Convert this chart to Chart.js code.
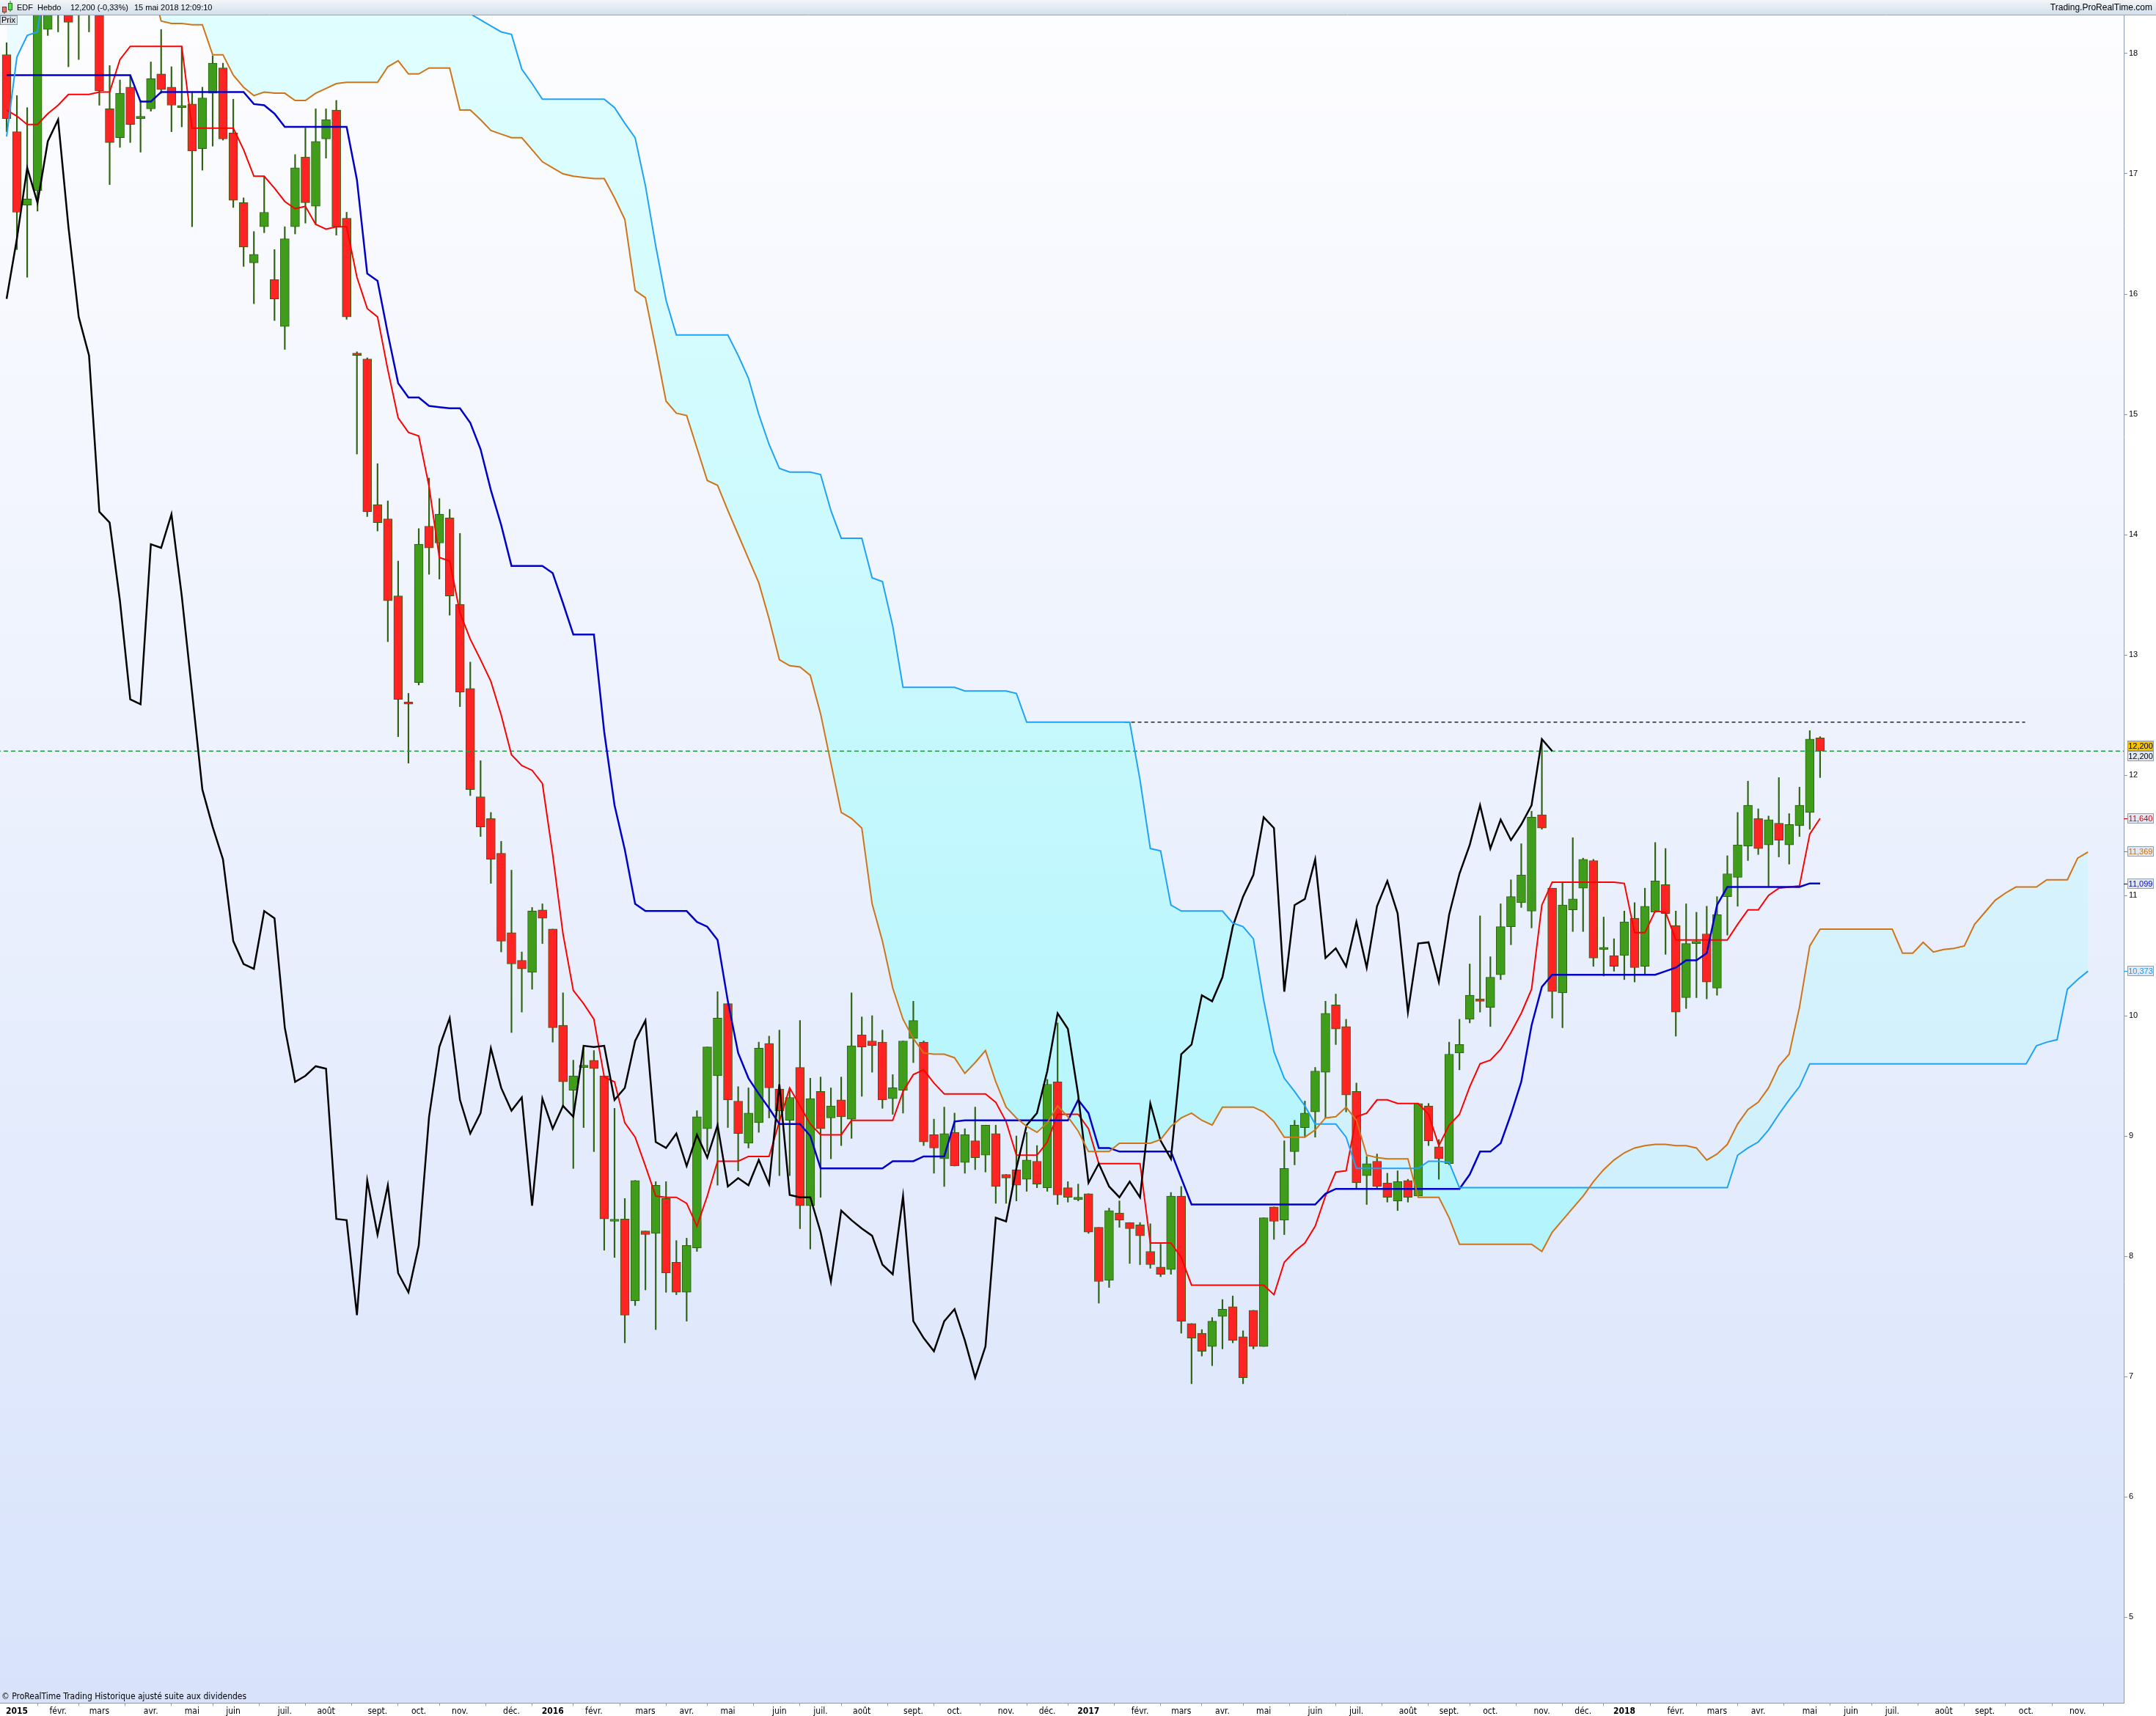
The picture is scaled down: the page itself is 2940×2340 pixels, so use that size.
<!DOCTYPE html>
<html>
<head>
<meta charset="utf-8">
<script src="https://cdn.jsdelivr.net/npm/chart.js@4.4.1/dist/chart.umd.min.js"></script>
<style>
  html, body { margin: 0; padding: 0; background: #fff; }
  canvas { display: block; }
</style>
</head>
<body>
<canvas id="chart" width="2940" height="2340"></canvas>
<script>
// EDF hebdo - ichimoku, bougies de janv. 2015 a mai 2018 (une valeur par semaine)
const opens = [
  17.99, 17.35, 16.74, 16.86, 18.20, 18.70, 18.80, 18.60, 18.50, 18.60,
  17.54, 17.30, 17.72, 17.46, 17.54, 17.83, 17.72, 17.55, 17.58, 17.21,
  17.67, 17.88, 17.34, 16.76, 16.26, 16.56, 16.12, 15.73, 16.56, 17.14,
  16.73, 17.29, 17.53, 16.63, 15.50, 15.46, 14.25, 14.13, 13.49, 12.60,
  12.77, 14.07, 13.93, 14.14, 13.42, 12.72, 11.82, 11.64, 11.35, 10.69,
  10.46, 10.36, 10.88, 10.72, 9.92, 9.38, 9.57, 9.63, 9.50, 8.29,
  8.31, 7.63, 8.21, 8.19, 8.48, 7.95, 7.70, 8.07, 9.06, 9.50,
  10.10, 9.29, 8.94, 9.11, 9.77, 9.39, 9.13, 9.57, 8.42, 9.37,
  9.15, 9.30, 9.14, 9.84, 9.79, 9.78, 9.31, 9.38, 9.81, 9.78,
  9.01, 8.81, 9.03, 8.78, 8.96, 8.84, 9.02, 8.68, 8.72, 8.64,
  8.79, 8.57, 9.45, 8.57, 8.47, 8.52, 8.24, 7.80, 8.36, 8.28,
  8.26, 8.04, 7.91, 7.89, 8.50, 7.44, 7.36, 7.25, 7.50, 7.58,
  7.33, 7.55, 7.25, 8.41, 8.30, 8.87, 9.07, 9.20, 9.53, 10.09,
  9.91, 9.37, 8.67, 8.79, 8.61, 8.46, 8.63, 8.50, 9.25, 8.91,
  8.77, 9.69, 9.97, 10.14, 10.07, 10.34, 10.74, 10.94, 10.87, 11.67,
  11.06, 10.19, 10.88, 11.06, 11.29, 10.55, 10.50, 10.50, 10.81, 10.41,
  10.86, 11.09, 10.75, 10.15, 10.60, 10.68, 10.23, 10.99, 11.15, 11.41,
  11.64, 11.42, 11.60, 11.42, 11.58, 11.69, 12.31
];
const highs = [
  18.09, 17.65, 17.55, 18.90, 18.90, 19.00, 19.00, 18.90, 18.90, 18.80,
  17.90, 17.78, 17.82, 17.61, 17.93, 18.20, 17.89, 18.05, 17.68, 17.72,
  17.98, 17.92, 17.62, 16.80, 16.52, 16.98, 16.37, 16.56, 17.16, 17.38,
  17.54, 17.54, 17.61, 16.68, 15.52, 15.47, 14.59, 14.28, 13.78, 12.68,
  14.05, 14.47, 14.30, 14.21, 14.01, 12.94, 12.12, 11.69, 11.45, 11.21,
  10.53, 10.90, 10.93, 10.72, 10.19, 9.63, 9.73, 9.71, 9.50, 9.23,
  8.48, 8.63, 8.21, 8.62, 8.62, 8.13, 8.15, 9.21, 9.74, 10.20,
  10.10, 9.41, 9.40, 9.78, 9.83, 9.88, 9.40, 9.96, 9.48, 9.49,
  9.40, 9.49, 10.19, 9.99, 10.00, 9.88, 9.51, 9.79, 10.12, 9.79,
  9.14, 9.24, 9.19, 9.06, 9.24, 9.09, 9.09, 8.68, 9.00, 9.03,
  8.92, 9.47, 9.94, 8.62, 8.60, 8.52, 8.24, 8.40, 8.46, 8.28,
  8.28, 8.27, 8.10, 8.53, 8.58, 7.44, 7.39, 7.49, 7.64, 7.67,
  7.38, 7.55, 8.32, 8.41, 8.96, 9.13, 9.29, 9.57, 10.12, 10.18,
  9.97, 9.44, 8.83, 8.85, 8.69, 8.71, 8.64, 9.27, 9.27, 8.97,
  9.78, 9.97, 10.43, 10.83, 10.49, 10.93, 11.13, 11.43, 11.70, 12.28,
  11.06, 11.11, 11.48, 11.31, 11.30, 10.82, 10.64, 10.87, 10.94, 11.06,
  11.44, 11.39, 10.87, 10.93, 10.86, 10.91, 10.99, 11.33, 11.69, 11.95,
  11.72, 11.66, 11.98, 11.68, 11.90, 12.37, 12.32
];
const lows = [
  17.35, 16.37, 16.14, 16.69, 18.15, 18.18, 17.89, 17.95, 18.18, 17.57,
  16.91, 17.22, 17.26, 17.18, 17.52, 17.67, 17.35, 17.39, 16.56, 17.03,
  17.23, 17.28, 16.72, 16.23, 15.92, 16.51, 15.78, 15.54, 16.50, 16.59,
  16.58, 17.13, 16.49, 15.79, 14.67, 14.15, 14.03, 13.11, 12.32, 12.10,
  12.75, 13.67, 13.63, 13.33, 12.57, 11.83, 11.49, 11.10, 10.53, 9.86,
  10.03, 10.22, 10.60, 9.78, 9.25, 8.73, 9.07, 8.87, 8.05, 7.99,
  7.28, 7.59, 7.72, 7.39, 7.70, 7.68, 7.46, 8.04, 8.87, 8.59,
  9.07, 8.71, 8.90, 9.03, 9.15, 8.67, 8.67, 8.23, 8.06, 8.49,
  8.81, 8.92, 8.98, 9.33, 9.53, 9.23, 9.18, 9.19, 9.61, 8.92,
  8.69, 8.58, 8.75, 8.69, 8.72, 8.70, 8.44, 8.44, 8.46, 8.54,
  8.57, 8.54, 8.43, 8.45, 8.46, 8.19, 7.61, 7.74, 8.24, 7.94,
  7.93, 7.90, 7.83, 7.85, 7.36, 6.94, 7.17, 7.09, 7.23, 7.28,
  6.94, 7.23, 7.25, 8.14, 8.18, 8.76, 8.99, 8.99, 9.15, 9.76,
  9.20, 8.56, 8.43, 8.57, 8.45, 8.38, 8.45, 8.50, 8.92, 8.64,
  8.76, 9.55, 9.94, 10.03, 9.91, 10.30, 10.59, 10.90, 10.73, 11.55,
  9.98, 9.90, 10.70, 10.70, 10.41, 10.33, 10.37, 10.30, 10.28, 10.34,
  10.86, 10.51, 9.83, 10.06, 10.15, 10.14, 10.17, 10.67, 10.91, 11.29,
  11.34, 11.07, 11.32, 11.26, 11.49, 11.55, 11.98
];
const closes = [
  17.46, 16.68, 16.79, 18.60, 18.70, 18.80, 18.26, 18.50, 18.70, 17.69,
  17.26, 17.67, 17.41, 17.47, 17.79, 17.70, 17.57, 17.56, 17.19, 17.63,
  17.92, 17.29, 16.78, 16.39, 16.33, 16.68, 15.96, 16.46, 17.05, 16.76,
  17.27, 17.45, 16.56, 15.81, 15.49, 14.19, 14.10, 13.45, 12.63, 12.59,
  13.92, 13.89, 14.17, 13.49, 12.69, 11.88, 11.57, 11.30, 10.62, 10.43,
  10.39, 10.87, 10.81, 9.90, 9.45, 9.50, 9.58, 9.56, 8.31, 8.30,
  7.51, 8.63, 8.18, 8.59, 7.86, 7.70, 8.09, 9.16, 9.74, 9.98,
  9.30, 9.02, 9.19, 9.73, 9.40, 9.21, 9.32, 8.42, 9.31, 9.06,
  9.25, 9.16, 9.75, 9.74, 9.75, 9.30, 9.40, 9.79, 9.96, 8.95,
  8.90, 9.02, 8.75, 9.01, 8.82, 9.09, 8.58, 8.65, 8.59, 8.80,
  8.60, 9.43, 8.51, 8.49, 8.49, 8.20, 7.79, 8.38, 8.30, 8.23,
  8.17, 7.93, 7.85, 8.50, 7.46, 7.32, 7.21, 7.46, 7.56, 7.30,
  6.99, 7.25, 8.32, 8.29, 8.73, 9.09, 9.19, 9.54, 10.02, 9.89,
  9.34, 8.61, 8.77, 8.58, 8.49, 8.62, 8.49, 9.27, 8.96, 8.81,
  9.68, 9.76, 10.17, 10.12, 10.32, 10.74, 10.99, 11.17, 11.65, 11.56,
  10.20, 10.92, 10.97, 11.30, 10.48, 10.56, 10.41, 10.78, 10.40, 10.91,
  11.12, 10.85, 10.03, 10.60, 10.61, 10.28, 10.84, 11.18, 11.42, 11.75,
  11.39, 11.63, 11.46, 11.59, 11.75, 12.30, 12.20
];
// Tenkan (rouge) et Kijun (bleu), une valeur par bougie
const tenkan = [
  17.53, 17.48, 17.41, 17.41, 17.50, 17.57, 17.66, 17.66, 17.66, 17.68,
  17.68, 17.95, 18.06, 18.06, 18.06, 18.06, 18.06, 18.06, 17.38, 17.38,
  17.38, 17.38, 17.38, 17.20, 16.98, 16.98, 16.88, 16.77, 16.71, 16.73,
  16.58, 16.54, 16.56, 16.56, 16.14, 15.88, 15.81, 15.37, 14.97, 14.85,
  14.82, 14.40, 13.81, 13.78, 13.35, 13.13, 12.96, 12.78, 12.50, 12.17,
  12.08, 12.04, 11.93, 11.34, 10.68, 10.21, 10.10, 9.97, 9.49, 9.45,
  9.11, 8.99, 8.75, 8.50, 8.49, 8.49, 8.44, 8.25, 8.50, 8.79,
  8.79, 8.79, 8.83, 8.83, 8.83, 9.12, 9.40, 9.25, 9.10, 9.01,
  9.01, 9.01, 9.13, 9.13, 9.13, 9.13, 9.13, 9.37, 9.51, 9.55,
  9.44, 9.35, 9.35, 9.35, 9.35, 9.35, 9.28, 9.12, 8.84, 8.84,
  8.84, 8.95, 9.18, 9.18, 9.18, 9.06, 8.77, 8.77, 8.77, 8.77,
  8.77, 8.11, 8.11, 8.11, 7.99, 7.76, 7.76, 7.76, 7.76, 7.76,
  7.76, 7.76, 7.76, 7.68, 7.95, 8.04, 8.11, 8.25, 8.50, 8.70,
  8.71, 9.16, 9.19, 9.30, 9.30, 9.27, 9.27, 9.27, 9.18, 8.92,
  9.09, 9.18, 9.41, 9.60, 9.63, 9.72, 9.86, 10.02, 10.22, 10.92,
  11.11, 11.11, 11.11, 11.11, 11.11, 11.11, 11.11, 11.10, 10.69, 10.69,
  10.87, 10.86, 10.63, 10.63, 10.63, 10.63, 10.63, 10.63, 10.76, 10.88,
  10.88, 11.00, 11.06, 11.07, 11.08, 11.51, 11.64
];
const kijun = [
  17.82, 17.82, 17.82, 17.82, 17.82, 17.82, 17.82, 17.82, 17.82, 17.82,
  17.82, 17.82, 17.82, 17.60, 17.60, 17.68, 17.68, 17.68, 17.68, 17.68,
  17.68, 17.68, 17.68, 17.68, 17.58, 17.57, 17.50, 17.39, 17.39, 17.39,
  17.39, 17.39, 17.39, 17.39, 16.95, 16.17, 16.11, 15.67, 15.26, 15.14,
  15.14, 15.07, 15.06, 15.05, 15.05, 14.93, 14.71, 14.37, 14.08, 13.74,
  13.74, 13.74, 13.74, 13.68, 13.43, 13.17, 13.17, 13.17, 12.36, 11.75,
  11.38, 10.93, 10.87, 10.87, 10.87, 10.87, 10.87, 10.78, 10.74, 10.63,
  10.12, 9.69, 9.48, 9.35, 9.23, 9.10, 9.10, 9.10, 9.00, 8.73,
  8.73, 8.73, 8.73, 8.73, 8.73, 8.73, 8.79, 8.79, 8.79, 8.83,
  8.83, 8.83, 9.12, 9.13, 9.13, 9.13, 9.13, 9.13, 9.13, 9.13,
  9.13, 9.13, 9.13, 9.13, 9.30, 9.19, 8.90, 8.90, 8.87, 8.87,
  8.87, 8.87, 8.87, 8.87, 8.65, 8.43, 8.43, 8.43, 8.43, 8.43,
  8.43, 8.43, 8.43, 8.43, 8.43, 8.43, 8.43, 8.43, 8.52, 8.56,
  8.56, 8.56, 8.56, 8.56, 8.56, 8.56, 8.56, 8.56, 8.56, 8.56,
  8.56, 8.56, 8.68, 8.87, 8.87, 8.94, 9.18, 9.45, 9.92, 10.24,
  10.34, 10.34, 10.34, 10.34, 10.34, 10.34, 10.34, 10.34, 10.34, 10.34,
  10.34, 10.37, 10.40, 10.46, 10.46, 10.52, 10.92, 11.07, 11.07, 11.07,
  11.07, 11.07, 11.07, 11.07, 11.07, 11.10, 11.10
];
// Senkou span A (orange) et B (bleu clair), decalees de 26 semaines : 203 valeurs
const senkouA = [
  18.60, 18.60, 18.60, 18.60, 18.60, 18.60, 18.60, 18.60, 18.60, 18.60,
  18.60, 18.60, 18.60, 18.60, 18.60, 18.27, 18.25, 18.25, 18.24, 18.24,
  17.99, 17.99, 17.82, 17.72, 17.65, 17.68, 17.67, 17.67, 17.61, 17.61,
  17.67, 17.71, 17.75, 17.76, 17.76, 17.76, 17.76, 17.89, 17.94, 17.83,
  17.83, 17.88, 17.88, 17.88, 17.53, 17.53, 17.45, 17.36, 17.33, 17.30,
  17.30, 17.20, 17.10, 17.05, 17.00, 16.98, 16.97, 16.96, 16.96, 16.80,
  16.62, 16.03, 15.97, 15.55, 15.11, 15.01, 14.99, 14.72, 14.45, 14.41,
  14.20, 14.00, 13.80, 13.60, 13.30, 12.96, 12.91, 12.90, 12.83, 12.51,
  12.10, 11.69, 11.64, 11.56, 10.93, 10.62, 10.23, 9.97, 9.81, 9.69,
  9.68, 9.68, 9.65, 9.52, 9.61, 9.71, 9.45, 9.24, 9.15, 9.08,
  9.03, 9.11, 9.25, 9.16, 9.04, 8.87, 8.87, 8.87, 8.94, 8.94,
  8.94, 8.94, 8.97, 9.08, 9.15, 9.19, 9.13, 9.09, 9.24, 9.24,
  9.24, 9.24, 9.20, 9.12, 8.99, 8.99, 8.99, 9.05, 9.15, 9.16,
  9.24, 9.13, 8.84, 8.82, 8.81, 8.81, 8.81, 8.49, 8.49, 8.49,
  8.32, 8.10, 8.10, 8.10, 8.10, 8.10, 8.10, 8.10, 8.10, 8.04,
  8.20, 8.30, 8.40, 8.50, 8.62, 8.72, 8.80, 8.86, 8.90, 8.92,
  8.93, 8.93, 8.92, 8.92, 8.90, 8.80, 8.85, 8.93, 9.10, 9.22,
  9.28, 9.40, 9.58, 9.68, 10.07, 10.58, 10.72, 10.72, 10.72, 10.72,
  10.72, 10.72, 10.72, 10.72, 10.52, 10.52, 10.61, 10.53, 10.55, 10.56,
  10.58, 10.76, 10.86, 10.96, 11.02, 11.07, 11.07, 11.07, 11.13, 11.13,
  11.13, 11.31, 11.36
];
const senkouB = [
  17.31, 17.97, 18.15, 18.18, 18.80, 18.80, 18.80, 18.80, 18.80, 18.80,
  18.80, 18.80, 18.80, 18.80, 18.80, 18.80, 18.80, 18.80, 18.80, 18.80,
  18.80, 18.80, 18.80, 18.80, 18.80, 18.80, 18.80, 18.80, 18.80, 18.80,
  18.80, 18.80, 18.80, 18.80, 18.80, 18.80, 18.80, 18.80, 18.80, 18.80,
  18.80, 18.80, 18.80, 18.80, 18.80, 18.33, 18.28, 18.23, 18.18, 18.16,
  17.87, 17.75, 17.62, 17.62, 17.62, 17.62, 17.62, 17.62, 17.62, 17.55,
  17.42, 17.30, 16.90, 16.40, 15.95, 15.66, 15.66, 15.66, 15.66, 15.66,
  15.66, 15.49, 15.30, 15.00, 14.75, 14.55, 14.52, 14.52, 14.52, 14.50,
  14.20, 13.97, 13.97, 13.97, 13.64, 13.61, 13.24, 12.73, 12.73, 12.73,
  12.73, 12.73, 12.73, 12.70, 12.70, 12.70, 12.70, 12.70, 12.68, 12.44,
  12.44, 12.44, 12.44, 12.44, 12.44, 12.44, 12.44, 12.44, 12.44, 12.44,
  11.96, 11.39, 11.37, 10.92, 10.87, 10.87, 10.87, 10.87, 10.87, 10.77,
  10.74, 10.64, 10.13, 9.70, 9.48, 9.37, 9.25, 9.10, 9.10, 9.10,
  8.99, 8.73, 8.73, 8.73, 8.73, 8.73, 8.73, 8.73, 8.79, 8.79,
  8.78, 8.57, 8.57, 8.57, 8.57, 8.57, 8.57, 8.57, 8.57, 8.57,
  8.57, 8.57, 8.57, 8.57, 8.57, 8.57, 8.57, 8.57, 8.57, 8.57,
  8.57, 8.57, 8.57, 8.57, 8.57, 8.57, 8.57, 8.57, 8.84, 8.90,
  8.95, 9.05, 9.18, 9.30, 9.41, 9.60, 9.60, 9.60, 9.60, 9.60,
  9.60, 9.60, 9.60, 9.60, 9.60, 9.60, 9.60, 9.60, 9.60, 9.60,
  9.60, 9.60, 9.60, 9.60, 9.60, 9.60, 9.60, 9.75, 9.78, 9.80,
  10.22, 10.30, 10.37
];
const chikouShift = 26;
const lastPrice = 12.2;
const resistance = 12.44;
const resistanceFrom = 108.5;
const resistanceTo = 195.9;
const yTickValues = [5, 6, 7, 8, 9, 10, 11, 12, 13, 14, 15, 16, 17, 18];
const monthLabels = ['', 'févr.', 'mars', 'avr.', 'mai', 'juin', 'juil.', 'août', 'sept.', 'oct.', 'nov.', 'déc.'];
const tickYears = [2015, 2016, 2017, 2018];
const priceTags = [
  { value: 12.2, text: '12,200', color: '#000000', bg: '#f6c400', dy: -7 },
  { value: 12.2, text: '12,200', color: '#000000', bg: '#e3e9f2', dy: 7 },
  { value: 11.64, text: '11,640', color: '#e00000', bg: '#e3e9f2', dy: 0 },
  { value: 11.369, text: '11,369', color: '#c8700a', bg: '#e3e9f2', dy: 0 },
  { value: 11.099, text: '11,099', color: '#0000cc', bg: '#e3e9f2', dy: 0 },
  { value: 10.373, text: '10,373', color: '#1e9bf0', bg: '#e3e9f2', dy: 0 }
];

// les barres sont datees du lundi ; premiere bougie = semaine du 29/12/2014
const firstBar = Date.UTC(2014, 11, 29);
const xTicks = [];
tickYears.forEach((y) => {
  for (let m = 0; m < 12; m++) {
    if (y === 2018 && m > 10) break;
    const days = (Date.UTC(y, m, 1) - firstBar) / 86400000;
    xTicks.push({ value: Math.ceil(days / 7), label: m === 0 ? String(y) : monthLabels[m], year: m === 0 });
  }
});

const canvas = document.getElementById('chart');
const ctx = canvas.getContext('2d');
const TOP = 21, BOTTOM = 2322;
function vGrad(c1, c2) {
  const g = ctx.createLinearGradient(0, TOP, 0, BOTTOM);
  g.addColorStop(0, c1);
  g.addColorStop(1, c2);
  return g;
}
const cloudBelow = vGrad('#e0feff', '#a2f1fc');
const cloudAbove = vGrad('#ecfbff', '#c2ebfb');

const bodies = closes.map((c, i) => ({ x: i, y: [opens[i], c] }));
const wicks = closes.map((c, i) => ({ x: i, y: [lows[i], highs[i]] }));
const line = (arr) => arr.map((v, i) => ({ x: i, y: v }));
const chikou = closes.slice(chikouShift).map((v, i) => ({ x: i, y: v }));

const isUp = (c) => {
  const p = c.raw;
  return p && p.y[1] >= p.y[0];
};

const lineBase = { type: 'line', pointRadius: 0, tension: 0, fill: false, order: 0 };

const datasets = [
  Object.assign({}, lineBase, { label: 'Senkou A', data: line(senkouA), borderColor: '#cf7418', borderWidth: 2,
    fill: { target: 1, above: cloudAbove, below: cloudBelow } }),
  Object.assign({}, lineBase, { label: 'Senkou B', data: line(senkouB), borderColor: '#1ea2f5', borderWidth: 2 }),
  Object.assign({}, lineBase, { label: 'Chikou', data: chikou, borderColor: '#000000', borderWidth: 2.5 }),
  Object.assign({}, lineBase, { label: 'Kijun', data: line(kijun), borderColor: '#0000c8', borderWidth: 2.5 }),
  Object.assign({}, lineBase, { label: 'Tenkan', data: line(tenkan), borderColor: '#ff0000', borderWidth: 2 }),
  Object.assign({}, lineBase, { label: 'Dernier', data: [{ x: -1, y: lastPrice }, { x: 210, y: lastPrice }],
    borderColor: '#1f9c3c', borderWidth: 1.5, borderDash: [6, 4] }),
  Object.assign({}, lineBase, { label: 'Resistance', data: [{ x: resistanceFrom, y: resistance }, { x: resistanceTo, y: resistance }],
    borderColor: '#222222', borderWidth: 1.5, borderDash: [5, 4] }),
  {
    type: 'bar', label: 'Corps', data: bodies, order: 1, grouped: false,
    barThickness: 12, minBarLength: 3, borderSkipped: false, borderWidth: 1,
    borderColor: '#2d5f10',
    backgroundColor: (c) => (isUp(c) ? '#3f9d1b' : '#ff2424')
  },
  {
    type: 'bar', label: 'Meches', data: wicks, order: 2, grouped: false,
    barThickness: 1.5, borderWidth: 0, backgroundColor: '#2f6212'
  }
];

const backgroundPlugin = {
  id: 'fond',
  beforeDraw(chart) {
    const c = chart.ctx, a = chart.chartArea;
    c.save();
    c.fillStyle = '#ffffff';
    c.fillRect(0, 0, chart.width, chart.height);
    const g = c.createLinearGradient(0, a.top, 0, a.bottom);
    g.addColorStop(0, '#fdfdff');
    g.addColorStop(1, '#d8e3fb');
    c.fillStyle = g;
    c.fillRect(a.left, a.top, a.right - a.left, a.bottom - a.top);
    c.restore();
  }
};

const decorPlugin = {
  id: 'decor',
  afterDraw(chart) {
    const c = chart.ctx, a = chart.chartArea, W = chart.width;
    const yScale = chart.scales.y;
    c.save();
    // bandeau du haut
    const hg = c.createLinearGradient(0, 0, 0, 20);
    hg.addColorStop(0, '#f2f6fa');
    hg.addColorStop(1, '#d4dfea');
    c.fillStyle = hg;
    c.fillRect(0, 0, W, 20);
    c.strokeStyle = '#98a6b4';
    c.lineWidth = 1;
    c.beginPath(); c.moveTo(0, 20.5); c.lineTo(W, 20.5); c.stroke();
    // petite icone bougies
    c.fillStyle = '#f06a6a'; c.fillRect(3, 9, 5, 7);
    c.strokeStyle = '#7a3030'; c.strokeRect(3.5, 9.5, 5, 7);
    c.fillStyle = '#57e04a'; c.fillRect(11, 4, 5, 9);
    c.strokeStyle = '#2a6e18'; c.strokeRect(11.5, 4.5, 5, 9);
    c.beginPath(); c.moveTo(14, 1); c.lineTo(14, 4); c.moveTo(14, 13); c.lineTo(14, 16); c.moveTo(6, 16); c.lineTo(6, 19); c.stroke();
    c.fillStyle = '#000';
    c.font = '11px "Liberation Sans", Arial, sans-serif';
    c.textBaseline = 'middle';
    c.fillText('EDF', 23, 11);
    c.fillText('Hebdo', 51, 11);
    c.fillText('12,200 (-0,33%)', 96, 11);
    c.fillText('15 mai 2018 12:09:10', 183, 11);
    c.font = '12px "Liberation Sans", Arial, sans-serif';
    c.textAlign = 'right';
    c.fillText('Trading.ProRealTime.com', 2935, 11);
    // cadre "Prix"
    c.textAlign = 'left';
    c.fillStyle = '#dde2e8';
    c.fillRect(0, 21, 24, 13);
    c.strokeStyle = '#8b97a3';
    c.strokeRect(0.5, 21.5, 23, 12);
    c.fillStyle = '#000';
    c.font = '11px "Liberation Sans", Arial, sans-serif';
    c.fillText('Prix', 2, 28);
    // pied
    c.font = '12px "Liberation Sans Narrow", "DejaVu Sans Condensed", sans-serif';
    c.fillText('\u00a9 ProRealTime Trading Historique ajust\u00e9 suite aux dividendes', 2, 2314);
    // etiquettes de prix sur l'axe
    c.font = '11px "Liberation Sans", Arial, sans-serif';
    priceTags.forEach((t) => {
      const y = Math.round(yScale.getPixelForValue(t.value)) + t.dy;
      c.fillStyle = t.bg;
      c.fillRect(2901, y - 7, 36, 14);
      c.strokeStyle = '#8d9cb0';
      c.strokeRect(2901.5, y - 6.5, 35, 13);
      c.fillStyle = t.color;
      c.textAlign = 'center';
      c.fillText(t.text, 2919, y + 0.5);
      if (t.dy === 0) {
        c.strokeStyle = t.color;
        c.beginPath(); c.moveTo(a.right, y + 0.5); c.lineTo(2901, y + 0.5); c.stroke();
      }
    });
    c.restore();
  }
};

new Chart(ctx, {
  type: 'bar',
  data: { datasets },
  options: {
    responsive: false,
    animation: false,
    devicePixelRatio: 1,
    layout: { padding: { top: 21, left: 0, right: 0, bottom: 0 } },
    plugins: {
      legend: { display: false },
      tooltip: { enabled: false },
      filler: { drawTime: 'beforeDatasetsDraw' }
    },
    scales: {
      x: {
        type: 'linear',
        offset: false,
        min: -0.64,
        max: 205.47,
        afterFit: (s) => { s.height = 18; },
        afterBuildTicks: (s) => { s.ticks = xTicks.map((t) => ({ value: t.value })); },
        grid: { drawOnChartArea: false, drawTicks: true, tickLength: 4, color: '#8a9aa8' },
        border: { display: true, color: '#8a9aa8' },
        ticks: {
          autoSkip: false,
          maxRotation: 0,
          minRotation: 0,
          padding: 1,
          color: '#000',
          font: (c) => ({
            family: '"Liberation Sans Narrow", "DejaVu Sans Condensed", sans-serif',
            size: 12,
            weight: (xTicks[c.index] && xTicks[c.index].year) ? 'bold' : 'normal'
          }),
          callback: (v, i) => (xTicks[i] ? xTicks[i].label : '')
        }
      },
      y: {
        type: 'linear',
        position: 'right',
        min: 4.287,
        max: 18.317,
        afterFit: (s) => { s.width = 44; },
        afterBuildTicks: (s) => { s.ticks = yTickValues.map((v) => ({ value: v })); },
        grid: { drawOnChartArea: false, drawTicks: true, tickLength: 5, color: '#8a9aa8' },
        border: { display: true, color: '#8a9aa8' },
        ticks: {
          padding: 2,
          color: '#000',
          font: { family: '"Liberation Sans", Arial, sans-serif', size: 11 },
          callback: (v) => String(v)
        }
      }
    }
  },
  plugins: [backgroundPlugin, decorPlugin]
});
</script>
</body>
</html>
